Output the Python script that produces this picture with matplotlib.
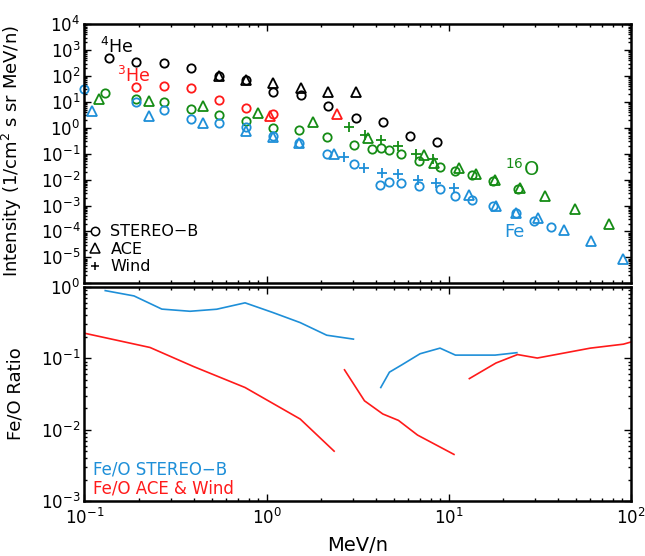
import numpy as np
import matplotlib
matplotlib.use('Agg')
import matplotlib.pyplot as plt
from matplotlib.ticker import LogLocator, NullFormatter
from matplotlib.lines import Line2D

plt.rcParams['font.family'] = 'DejaVu Sans'
plt.rcParams['mathtext.fontset'] = 'dejavusans'

BLUE = '#1e8fd8'
RED = '#ff1a1a'
GREEN = '#158c15'

# ---- intensities (1/cm2 s sr MeV/n) ----
# 4He
stb_he4_e = [0.136, 0.192, 0.272, 0.385, 0.546, 0.769, 1.09, 1.54, 2.17, 3.08, 4.35, 6.14, 8.67]
stb_he4 = [490, 340, 310, 200, 98, 69, 23, 19, 6.8, 2.4, 1.7, 0.49, 0.28]
ace_he4_e = [0.546, 0.769, 1.09, 1.54, 2.17, 3.08]
ace_he4 = [98, 69, 51, 35, 23, 23]
# 3He
stb_he3_e = [0.192, 0.272, 0.385, 0.546, 0.769, 1.09]
stb_he3 = [38, 42, 33, 12, 5.9, 3.3]
ace_he3_e = [1.04, 2.44]
ace_he3 = [2.8, 3.3]
# 16O
stb_o_e = [0.130, 0.192, 0.272, 0.385, 0.546, 0.769, 1.08, 1.51, 2.14, 3.03, 3.79, 4.24, 4.73,
           5.46, 6.91, 8.95, 10.9, 13.4, 17.6, 23.9]
stb_o = [21, 13, 9.7, 5.1, 3.0, 1.75, 1.0, 0.79, 0.43, 0.22, 0.145, 0.16, 0.133,
         0.096, 0.051, 0.030, 0.022, 0.015, 0.0087, 0.0043]
ace_o_e = [0.120, 0.227, 0.45, 0.90, 1.81, 3.62, 7.28, 8.36, 11.4, 14.2, 17.9, 24.7, 33.9, 49.5, 75.9]
ace_o = [12.6, 11, 6.8, 3.8, 1.6, 0.40, 0.085, 0.042, 0.027, 0.017, 0.0095, 0.0047, 0.0023, 0.00076, 0.00019]
wind_o_e = [2.84, 3.47, 4.26, 5.30, 6.63, 8.18]
wind_o = [1.08, 0.53, 0.33, 0.195, 0.10, 0.065]
# Fe
stb_fe_e = [0.1, 0.192, 0.272, 0.385, 0.546, 0.769, 1.08, 1.51, 2.14, 3.03, 4.2, 4.7, 5.46,
            6.91, 8.95, 10.9, 13.4, 17.6, 23.5, 29.6, 36.5]
stb_fe = [31, 9.5, 4.8, 2.2, 1.5, 1.08, 0.47, 0.26, 0.093, 0.041, 0.0060, 0.0081, 0.0074,
          0.0057, 0.0042, 0.0023, 0.0017, 0.00093, 0.00051, 0.00026, 0.00015]
ace_fe_e = [0.110, 0.227, 0.45, 0.769, 1.08, 1.51, 2.36, 13.0, 18.1, 23.5, 30.9, 43.3, 60.4, 90.2]
ace_fe = [4.4, 2.9, 1.47, 0.76, 0.45, 0.25, 0.10, 0.0025, 0.00093, 0.00051, 0.00032, 0.000115, 4.1e-5, 8.5e-6]
wind_fe_e = [2.67, 3.43, 4.33, 5.30, 6.75, 8.5, 10.7]
wind_fe = [0.076, 0.028, 0.018, 0.016, 0.0095, 0.0071, 0.0048]

# ---- Fe/O ratios ----
ratio_stb1_e = [0.130, 0.187, 0.266, 0.38, 0.532, 0.762, 1.08, 1.53, 2.14, 3.0]
ratio_stb1 = [0.89, 0.75, 0.49, 0.457, 0.488, 0.60, 0.44, 0.317, 0.211, 0.186]
ratio_stb2_e = [4.24, 4.73, 5.53, 6.97, 8.97, 10.9, 18.0, 23.7]
ratio_stb2 = [0.039, 0.064, 0.081, 0.116, 0.139, 0.111, 0.111, 0.120]
ratio_ace1_e = [0.1, 0.229, 0.396, 0.762, 1.53, 2.35]
ratio_ace1 = [0.225, 0.142, 0.077, 0.039, 0.0141, 0.0050]
ratio_wind_e = [2.68, 3.45, 4.35, 5.30, 6.75, 10.7]
ratio_wind = [0.069, 0.0254, 0.0166, 0.0135, 0.0084, 0.0045]
ratio_ace2_e = [13.0, 18.2, 23.9, 30.7, 60.0, 91.2, 100]
ratio_ace2 = [0.052, 0.086, 0.113, 0.101, 0.139, 0.158, 0.169]

fig = plt.figure(figsize=(6.45, 5.56), dpi=100)
ax1 = fig.add_axes([0.131, 0.4905, 0.8468, 0.4663])
ax2 = fig.add_axes([0.131, 0.0989, 0.8468, 0.3849])

mk = dict(ls='none', mfc='none', mew=1.3, clip_on=False)
for e, v, c in [(stb_he4_e, stb_he4, 'k'), (stb_he3_e, stb_he3, RED),
                (stb_o_e, stb_o, GREEN), (stb_fe_e, stb_fe, BLUE)]:
    ax1.plot(e, v, marker='o', ms=6, mec=c, **mk)
for e, v, c in [(ace_he4_e, ace_he4, 'k'), (ace_he3_e, ace_he3, RED),
                (ace_o_e, ace_o, GREEN), (ace_fe_e, ace_fe, BLUE)]:
    ax1.plot(e, v, marker='^', ms=6.5, mec=c, **mk)
for e, v, c in [(wind_o_e, wind_o, GREEN), (wind_fe_e, wind_fe, BLUE)]:
    ax1.plot(e, v, marker='+', ms=7, mec=c, **mk)

ax1.text(0.1217, 760, r'$^{4}$He', fontsize=12.5, color='k', va='baseline')
ax1.text(0.151, 57, r'$^{3}$He', fontsize=12.5, color=RED, va='baseline')
ax1.text(20.4, 0.0135, r'$^{16}$O', fontsize=14, color=GREEN, va='baseline')
ax1.text(20.2, 6.0e-5, 'Fe', fontsize=13, color=BLUE, va='baseline')

handles = [Line2D([], [], ls='none', marker='o', mfc='none', mec='k', mew=1.1, ms=6),
           Line2D([], [], ls='none', marker='^', mfc='none', mec='k', mew=1.1, ms=6.5),
           Line2D([], [], ls='none', marker='+', mec='k', mew=1.1, ms=6)]
ax1.legend(handles, ['STEREO\u2212B', 'ACE', 'Wind'], loc='lower left',
           bbox_to_anchor=(0.005, 0.035), frameon=False, fontsize=11.5,
           handlelength=1.0, handletextpad=0.45, labelspacing=0.15,
           borderpad=0, borderaxespad=0)

ax2.plot(ratio_stb1_e, ratio_stb1, color=BLUE, lw=1.2)
ax2.plot(ratio_stb2_e, ratio_stb2, color=BLUE, lw=1.2)
ax2.plot(ratio_ace1_e, ratio_ace1, color=RED, lw=1.2)
ax2.plot(ratio_wind_e, ratio_wind, color=RED, lw=1.2)
ax2.plot(ratio_ace2_e, ratio_ace2, color=RED, lw=1.2)

ax2.text(0.112, 0.0028, 'Fe/O STEREO\u2212B', fontsize=12, color=BLUE, va='center')
ax2.text(0.112, 0.00152, 'Fe/O ACE & Wind', fontsize=12, color=RED, va='center')

for ax in (ax1, ax2):
    ax.set_xscale('log')
    ax.set_yscale('log')
    ax.set_xlim(0.1, 100)
    ax.xaxis.set_minor_locator(LogLocator(base=10, subs=np.arange(2, 10), numticks=100))
    ax.yaxis.set_minor_locator(LogLocator(base=10, subs=np.arange(2, 10), numticks=100))
    ax.xaxis.set_minor_formatter(NullFormatter())
    ax.yaxis.set_minor_formatter(NullFormatter())
    ax.tick_params(which='both', direction='in', top=True, right=True, labelsize=12, width=1)
    ax.tick_params(which='major', length=5)
    ax.tick_params(which='minor', length=2.5)
    for s in ax.spines.values():
        s.set_linewidth(1.8)

ax1.set_ylim(1e-6, 1e4)
ax1.set_yticks(10.0 ** np.arange(-6, 5))
ax1.set_yticklabels([''] + ['$10^{%d}$' % k for k in range(-5, 5)])
ax1.tick_params(axis='x', labelbottom=False)
ax1.tick_params(axis='y', pad=3)
ax1.set_ylabel('Intensity (1/cm$^2$ s sr MeV/n)', fontsize=13)
ax1.yaxis.set_label_coords(-0.11, 0.51)

ax2.set_ylim(1e-3, 1)
ax2.set_yticks(10.0 ** np.arange(-3, 1))
ax2.set_yticklabels(['$10^{%d}$' % k for k in range(-3, 1)])
ax2.set_xticks([0.1, 1, 10, 100])
ax2.set_xticklabels(['$10^{%d}$' % k for k in range(-1, 3)])
ax2.tick_params(axis='y', pad=3)
ax2.tick_params(axis='x', pad=5)
ax2.set_ylabel('Fe/O Ratio', fontsize=13)
ax2.yaxis.set_label_coords(-0.11, 0.5)
ax2.set_xlabel('MeV/n', fontsize=14)
ax2.xaxis.set_label_coords(0.5, -0.165)

fig.savefig('out.png', dpi=100)
